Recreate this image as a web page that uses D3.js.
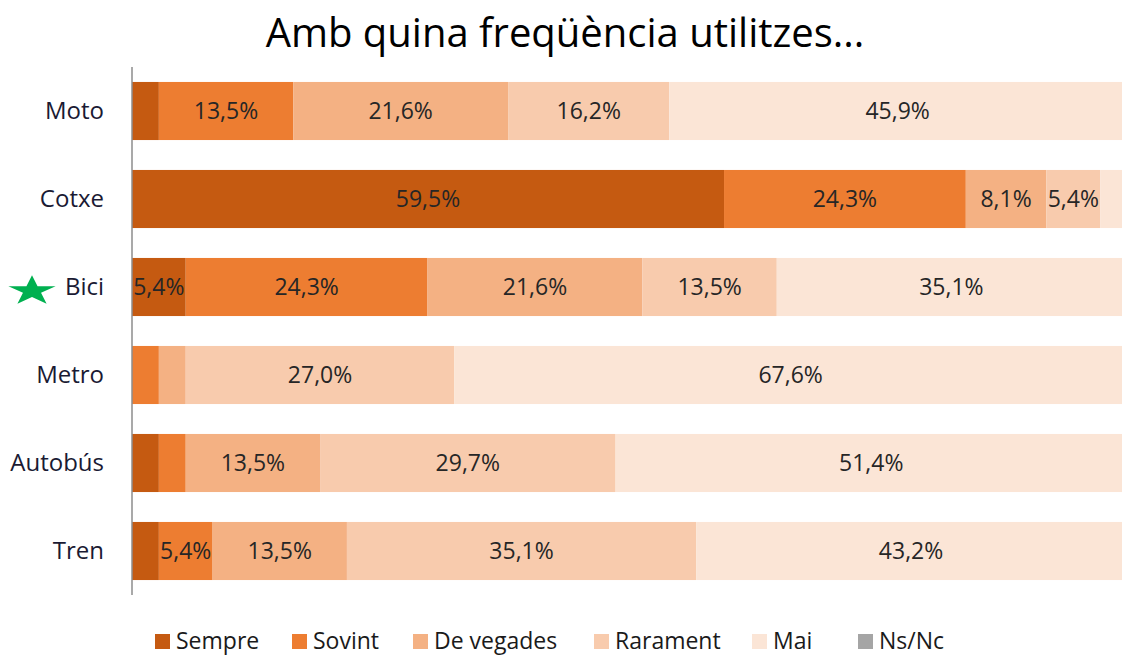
<!DOCTYPE html>
<html><head><meta charset="utf-8">
<script src="https://cdn.jsdelivr.net/npm/d3@7"></script>
<style>html,body{margin:0;padding:0;background:#fff;overflow:hidden}</style>
</head><body><svg id="c" width="1122" height="656"></svg>
<script>
const categories = ["Moto","Cotxe","Bici","Metro","Autobús","Tren"];
const seriesNames = ["Sempre","Sovint","De vegades","Rarament","Mai","Ns/Nc"];
const sempre    = [2.7, 59.5, 5.4, 0.0, 2.7, 2.7];
const sovint    = [13.5, 24.3, 24.3, 2.7, 2.7, 5.4];
const deVegades = [21.6, 8.1, 21.6, 2.7, 13.5, 13.5];
const rarament  = [16.2, 5.4, 13.5, 27.0, 29.7, 35.1];
const mai       = [45.9, 2.7, 35.1, 67.6, 51.4, 43.2];
const nsnc      = [0, 0, 0, 0, 0, 0];
const colors = ["#C55A11","#ED7D31","#F4B183","#F8CBAD","#FBE5D6","#A5A5A5"];

const seriesVals = [sempre, sovint, deVegades, rarament, mai, nsnc];
const rows = categories.map((c,i)=>{const o={cat:c}; seriesNames.forEach((s,j)=>o[s]=seriesVals[j][i]); return o;});
const stack = d3.stack().keys(seriesNames)(rows);

const svg = d3.select("#c");
const font = "'Open Sans', sans-serif";
const x = d3.scaleLinear().domain([0,100]).range([132,1127]);
const y = d3.scaleBand().domain(categories).range([67,595]).paddingInner(0.34).paddingOuter(0.17);

svg.append("text").attr("x",565).attr("y",47).attr("text-anchor","middle")
  .attr("font-family",font).attr("font-size",40).attr("fill","#000")
  .text("Amb quina freqüència utilitzes...");

const g = svg.append("g");
stack.forEach((layer,j)=>{
  const lg = g.append("g").attr("fill",colors[j]);
  lg.selectAll("rect").data(layer).join("rect")
    .attr("x",d=>x(d[0])).attr("width",d=>x(d[1])-x(d[0]))
    .attr("y",d=>y(d.data.cat)).attr("height",y.bandwidth());
});
const fmt = v => v.toFixed(1).replace(".",",")+"%";
stack.forEach((layer,j)=>{
  g.append("g").selectAll("text").data(layer.filter(d=>d[1]-d[0]>=5)).join("text")
    .attr("x",d=>(x(d[0])+x(d[1]))/2).attr("y",d=>y(d.data.cat)+y.bandwidth()/2)
    .attr("dy","0.35em").attr("text-anchor","middle")
    .attr("font-family",font).attr("font-size",23).attr("fill","#262626")
    .text(d=>fmt(d[1]-d[0]));
});

// axis
const ax = svg.append("g").attr("transform","translate(132,0)")
  .call(d3.axisLeft(y).tickSize(0).tickPadding(28));
ax.select(".domain").attr("stroke","#8c8c8c").attr("stroke-width",1.5).attr("d","M0,67V595");
ax.selectAll("text").attr("font-family",font).attr("font-size",24).attr("fill","#1a1a33");

// star next to Bici
const star = d3.symbol().type(d3.symbolStar).size(380);
svg.append("path").attr("d",star())
  .attr("transform",`translate(32,${y("Bici")+y.bandwidth()/2+4}) scale(1.35,0.85)`)
  .attr("fill","#00B050");

// legend
const legX = [155,292,413,594,752,858];
const leg = svg.append("g");
seriesNames.forEach((s,j)=>{
  leg.append("rect").attr("x",legX[j]).attr("y",634).attr("width",15).attr("height",15).attr("fill",colors[j]);
  leg.append("text").attr("x",legX[j]+21).attr("y",641).attr("dy","0.35em")
    .attr("font-family",font).attr("font-size",23).attr("fill","#1a1a1a").text(s);
});
</script></body></html>
